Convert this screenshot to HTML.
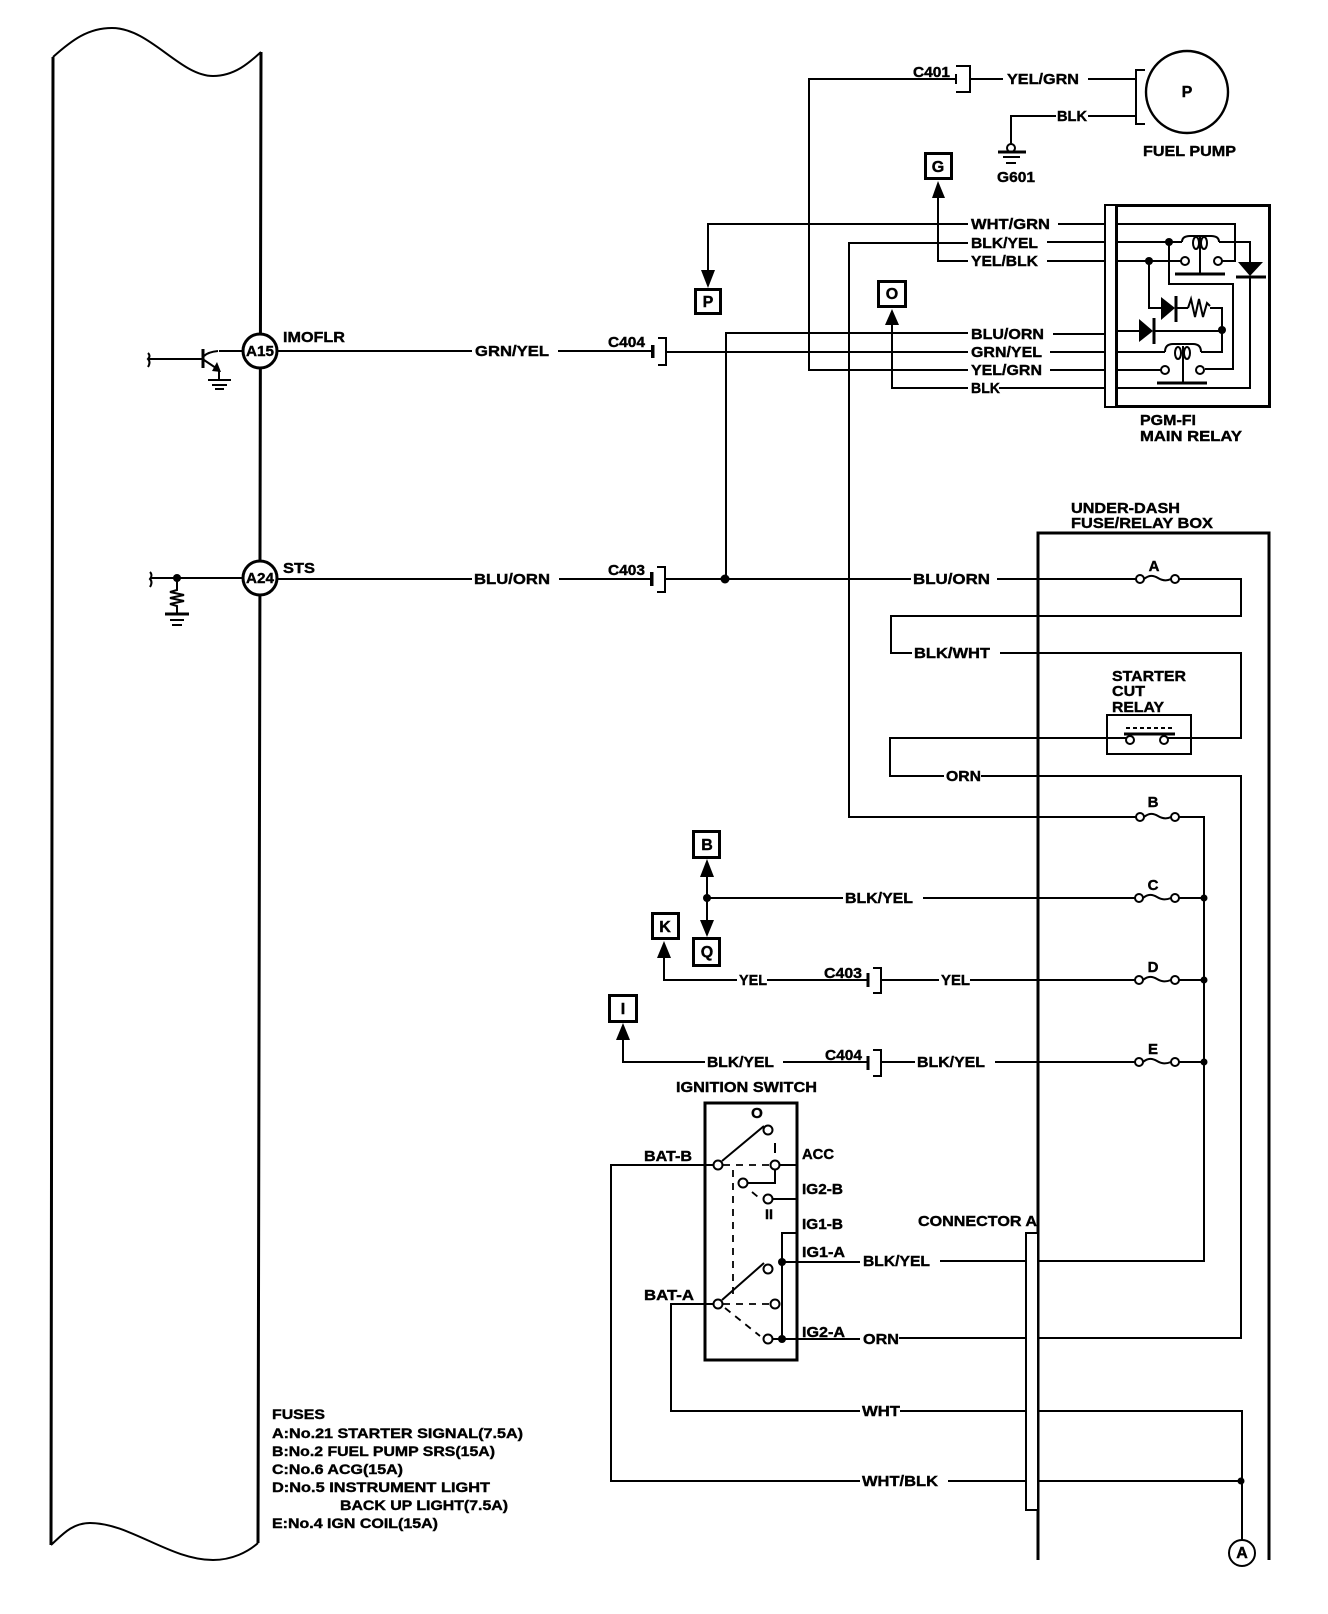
<!DOCTYPE html>
<html>
<head>
<meta charset="utf-8">
<style>
html,body{margin:0;padding:0;background:#fff;width:1328px;height:1614px;overflow:hidden}
svg{display:block}
text{font-family:"Liberation Sans",sans-serif;font-weight:bold;font-size:15px;fill:#000;stroke:#000;stroke-width:.4}
.s{font-size:14px}
.l{font-size:16px}
.c{text-anchor:middle}
.w{fill:none;stroke:#000;stroke-width:2;shape-rendering:crispEdges}
.t{fill:none;stroke:#000;stroke-width:3;shape-rendering:crispEdges}
.n{fill:none;stroke:#000;stroke-width:1.6;shape-rendering:crispEdges}
.v{fill:none;stroke:#000;stroke-width:2}
.o{fill:#fff;stroke:#000;stroke-width:2}
.f{fill:#000;stroke:none}
.b{fill:#fff;stroke:#000;stroke-width:3}
.d{fill:none;stroke:#000;stroke-width:1.8;stroke-dasharray:7 6}
</style>
</head>
<body>
<svg width="1328" height="1614" viewBox="0 0 1328 1614" xmlns="http://www.w3.org/2000/svg">
<!-- left module -->
<path class="v" d="M53 57C72 40 88 28 112 28C150 28 180 76 213 76C235 76 250 62 261 52"/>
<path class="v" d="M51 1545C62 1535 72 1523 90 1523C130 1523 170 1560 213 1560C232 1560 248 1552 258 1543"/>
<path class="t" style="shape-rendering:auto" d="M53 57L51 1545M261 52L258 1543"/>
<circle class="b" cx="260" cy="351" r="17"/>
<circle class="b" cx="260" cy="578" r="17"/>
<text x="246" y="356" textLength="28" lengthAdjust="spacingAndGlyphs">A15</text>
<text x="246" y="583" textLength="28" lengthAdjust="spacingAndGlyphs">A24</text>
<text x="283" y="342" textLength="62" lengthAdjust="spacingAndGlyphs">IMOFLR</text>
<text x="283" y="573" textLength="32" lengthAdjust="spacingAndGlyphs">STS</text>
<!-- transistor -->
<path class="v" d="M148 353q3 3 0 6q3 3 0 8M148 359H203M218 351Q208 352 204 356M219 351H243"/>
<path class="t" style="shape-rendering:auto" d="M203 349V368"/>
<path class="v" d="M204 360L219 370V379"/>
<path class="f" d="M221 372L212 371L217 362Z"/>
<path class="w" d="M208 380H231M212 385H227M215 389H224"/>
<!-- A24 input -->
<path class="v" d="M150 572q3 3 0 7q3 3 0 8M150 578H243M177 578V590L170 592L184 595L170 598L184 601L170 604L177 606V614"/>
<circle class="f" cx="177" cy="578" r="4"/>
<path class="t" d="M165 614H189"/><path class="w" d="M170 620H184M172 625H182"/>
<!-- A15 / A24 wires -->
<path class="w" d="M277 351H472M558 351H652M666 352H968"/>
<text x="475" y="356" textLength="74" lengthAdjust="spacingAndGlyphs">GRN/YEL</text>
<path class="w" d="M277 579H472M559 579H651M665 579H911M997 579H1140"/>
<text x="474" y="584" textLength="76" lengthAdjust="spacingAndGlyphs">BLU/ORN</text>
<text x="608" y="347" textLength="37" lengthAdjust="spacingAndGlyphs">C404</text>
<text x="608" y="575" textLength="37" lengthAdjust="spacingAndGlyphs">C403</text>
<path class="w" d="M658 338H666V365H658M652 345V358M657 567H665V592H657M651 572V586"/>
<path class="t" d="M653 345V358M652 572V586"/>
<path class="w" d="M726 579V333H968"/>
<circle class="f" cx="725" cy="579" r="4.5"/>
<!-- top harness -->
<path class="w" d="M955 79H809V370H968M970 79H1003M1088 79H1135"/>
<path class="w" d="M956 66H970V92H956M956 74V84"/>
<text x="913" y="77" textLength="37" lengthAdjust="spacingAndGlyphs">C401</text>
<text x="1007" y="84" textLength="72" lengthAdjust="spacingAndGlyphs">YEL/GRN</text>
<path class="w" d="M1145 70H1136V124H1145"/>
<circle cx="1187" cy="92" r="41" fill="none" stroke="#000" stroke-width="2.4"/>
<text x="1187" y="97" class="l c">P</text>
<text x="1143" y="156" textLength="93" lengthAdjust="spacingAndGlyphs">FUEL PUMP</text>
<path class="w" d="M1136 116H1088M1056 116H1011V144"/>
<text x="1057" y="121" textLength="30" lengthAdjust="spacingAndGlyphs">BLK</text>
<circle class="o" cx="1011" cy="148" r="4"/>
<path class="t" d="M998 152H1026"/><path class="n" d="M1003 157H1020M1006 163H1016"/>
<text x="997" y="182" textLength="38" lengthAdjust="spacingAndGlyphs">G601</text>
<!-- G box -->
<rect class="b" x="925.5" y="153.5" width="26" height="25"/>
<text x="938" y="172" class="l c">G</text>
<path class="f" d="M938 181L945 198H932Z"/>
<path class="w" d="M938 198V261H968"/>
<!-- P box -->
<path class="w" d="M968 224H708V271"/>
<path class="f" d="M708 288L701 270H715Z"/>
<rect class="b" x="695.5" y="289.5" width="25" height="24"/>
<text x="708" y="307" class="l c">P</text>
<!-- O box -->
<rect class="b" x="878.5" y="281.5" width="27" height="25"/>
<text x="892" y="299" class="l c">O</text>
<path class="f" d="M892 309L899 325H885Z"/>
<path class="w" d="M892 325V388H968"/>
<!-- long BLK/YEL -->
<path class="w" d="M968 243H849V817H1137"/>
<!-- relay labels -->
<text x="971" y="229" textLength="79" lengthAdjust="spacingAndGlyphs">WHT/GRN</text>
<text x="971" y="248" textLength="67" lengthAdjust="spacingAndGlyphs">BLK/YEL</text>
<text x="971" y="266" textLength="67" lengthAdjust="spacingAndGlyphs">YEL/BLK</text>
<text x="971" y="339" textLength="73" lengthAdjust="spacingAndGlyphs">BLU/ORN</text>
<text x="971" y="357" textLength="71" lengthAdjust="spacingAndGlyphs">GRN/YEL</text>
<text x="971" y="375" textLength="71" lengthAdjust="spacingAndGlyphs">YEL/GRN</text>
<text x="971" y="393" textLength="29" lengthAdjust="spacingAndGlyphs">BLK</text>
<path class="w" d="M1058 224H1105M1047 242H1105M1047 261H1105M1053 334H1105M1050 352H1105M1050 370H1105M999 388H1105"/>
<!-- relay box -->
<path class="n" d="M1116 205H1105V407H1116"/>
<rect x="1116.5" y="205.5" width="153" height="201" fill="none" stroke="#000" stroke-width="3" shape-rendering="crispEdges"/>
<path class="w" d="M1116 224H1235V261H1222M1116 242H1182M1219 242H1250V262M1250 277V388H1116M1116 261H1181"/>
<path class="w" d="M1169 242V284H1233V369H1205M1149 261V308H1161M1176 308H1188M1210 308H1222V352H1201M1116 331H1139M1154 331H1222M1116 352H1165M1116 370H1161"/>
<circle class="f" cx="1169" cy="242" r="4"/><circle class="f" cx="1149" cy="261" r="4"/><circle class="f" cx="1222" cy="330" r="4"/>
<!-- upper coil -->
<path class="v" d="M1182 242q0-6 8-6h21q8 0 8 6"/>
<ellipse cx="1196" cy="243" rx="3" ry="6" class="v"/><ellipse cx="1204" cy="243" rx="3" ry="6" class="v"/>
<path class="n" d="M1200 236V274"/>
<circle class="o" cx="1185" cy="261" r="4"/><circle class="o" cx="1218" cy="261" r="4"/>
<path class="t" d="M1175 274H1225"/>
<!-- lower coil -->
<path class="v" d="M1165 352q0-8 8-8h20q8 0 8 8"/>
<ellipse cx="1178" cy="353" rx="3" ry="6" class="v"/><ellipse cx="1187" cy="353" rx="3" ry="6" class="v"/>
<path class="n" d="M1183 346V383"/>
<circle class="o" cx="1165" cy="370" r="4"/><circle class="o" cx="1200" cy="370" r="4"/>
<path class="t" d="M1157 383H1207"/>
<!-- diodes -->
<path class="f" d="M1161 297L1175 308L1161 320Z"/><path class="t" d="M1176 296V322"/>
<path class="f" d="M1139 319L1153 331L1139 342Z"/><path class="t" d="M1154 318V344"/>
<path class="f" d="M1238 262H1263L1250 276Z"/><path class="t" d="M1236 277H1266"/>
<path class="v" d="M1188 308l3-9 4 18 4-18 4 18 4-14 3 3"/>
<text x="1140" y="425" textLength="56" lengthAdjust="spacingAndGlyphs">PGM-FI</text>
<text x="1140" y="441" textLength="102" lengthAdjust="spacingAndGlyphs">MAIN RELAY</text>
<!-- under-dash box -->
<text x="1071" y="513" textLength="109" lengthAdjust="spacingAndGlyphs">UNDER-DASH</text>
<text x="1071" y="528" textLength="142" lengthAdjust="spacingAndGlyphs">FUSE/RELAY BOX</text>
<path class="t" d="M1038 1560V533H1269V1560"/>
<text x="913" y="584" textLength="77" lengthAdjust="spacingAndGlyphs">BLU/ORN</text>
<path class="w" d="M1179 579H1241V616H891V653H912M1000 653H1241V738H1164M1126 738H890V776H944M981 776H1241V1338H899"/>
<text x="914" y="658" textLength="76" lengthAdjust="spacingAndGlyphs">BLK/WHT</text>
<text x="946" y="781" textLength="35" lengthAdjust="spacingAndGlyphs">ORN</text>
<!-- starter relay -->
<text x="1112" y="681" textLength="74" lengthAdjust="spacingAndGlyphs">STARTER</text>
<text x="1112" y="696" textLength="33" lengthAdjust="spacingAndGlyphs">CUT</text>
<text x="1112" y="712" textLength="52" lengthAdjust="spacingAndGlyphs">RELAY</text>
<rect x="1107" y="715" width="84" height="39" fill="none" stroke="#000" stroke-width="2.4" shape-rendering="crispEdges"/>
<path class="n" stroke-dasharray="4 3" d="M1126 728H1172"/>
<path class="t" d="M1124 734H1175"/>
<circle class="o" cx="1130" cy="740" r="4"/><circle class="o" cx="1164" cy="740" r="4"/>
<!-- fuses -->
<g>
<path class="v" d="M1144 579c5-4 9-4 14-1s9 3 13 1M1144 817c5-4 9-4 14-1s9 3 13 1M1143 898c5-4 9-4 14-1s9 3 14 1M1143 980c5-4 9-4 14-1s9 3 14 1M1143 1062c5-4 9-4 14-1s9 3 14 1"/>
<circle class="o" cx="1140" cy="579" r="4"/><circle class="o" cx="1175" cy="579" r="4"/>
<circle class="o" cx="1140" cy="817" r="4"/><circle class="o" cx="1175" cy="817" r="4"/>
<circle class="o" cx="1139" cy="898" r="4"/><circle class="o" cx="1175" cy="898" r="4"/>
<circle class="o" cx="1139" cy="980" r="4"/><circle class="o" cx="1175" cy="980" r="4"/>
<circle class="o" cx="1139" cy="1062" r="4"/><circle class="o" cx="1175" cy="1062" r="4"/>
<text x="1154" y="571" class="c">A</text>
<text x="1153" y="807" class="c">B</text>
<text x="1153" y="890" class="c">C</text>
<text x="1153" y="972" class="c">D</text>
<text x="1153" y="1054" class="c">E</text>
</g>
<path class="w" d="M1179 817H1204V1261H1037M1179 898H1204M1179 980H1204M1179 1062H1204"/>
<circle class="f" cx="1204" cy="898" r="3.5"/><circle class="f" cx="1204" cy="980" r="3.5"/><circle class="f" cx="1204" cy="1062" r="3.5"/>
<!-- BLK/YEL C -->
<path class="w" d="M707 898H843M923 898H1135"/>
<text x="845" y="903" textLength="68" lengthAdjust="spacingAndGlyphs">BLK/YEL</text>
<circle class="f" cx="707" cy="898" r="4"/>
<rect class="b" x="693.5" y="831.5" width="26" height="26"/>
<text x="707" y="850" class="l c">B</text>
<path class="f" d="M707 859L714 877H700Z"/>
<path class="w" d="M707 877V920"/>
<path class="f" d="M707 937L700 920H714Z"/>
<rect class="b" x="693.5" y="938.5" width="26" height="27"/>
<text x="707" y="957" class="l c">Q</text>
<!-- K -->
<rect class="b" x="652.5" y="913.5" width="26" height="25"/>
<text x="665" y="932" class="l c">K</text>
<path class="f" d="M664 941L671 958H657Z"/>
<path class="w" d="M664 958V980H737M767 980H868M881 980H939M970 980H1135"/>
<text x="739" y="985" textLength="28" lengthAdjust="spacingAndGlyphs">YEL</text>
<text x="941" y="985" textLength="29" lengthAdjust="spacingAndGlyphs">YEL</text>
<text x="824" y="978" textLength="38" lengthAdjust="spacingAndGlyphs">C403</text>
<path class="w" d="M873 968H881V993H873"/><path class="t" d="M868 973V987"/>
<!-- I -->
<rect class="b" x="609.5" y="995.5" width="27" height="26"/>
<text x="623" y="1014" class="l c">I</text>
<path class="f" d="M623 1023L630 1040H616Z"/>
<path class="w" d="M623 1040V1062H705M783 1062H868M881 1062H915M995 1062H1135"/>
<text x="707" y="1067" textLength="67" lengthAdjust="spacingAndGlyphs">BLK/YEL</text>
<text x="917" y="1067" textLength="68" lengthAdjust="spacingAndGlyphs">BLK/YEL</text>
<text x="825" y="1060" textLength="37" lengthAdjust="spacingAndGlyphs">C404</text>
<path class="w" d="M873 1050H881V1076H873"/><path class="t" d="M868 1056V1070"/>
<!-- ignition switch -->
<text x="676" y="1092" textLength="141" lengthAdjust="spacingAndGlyphs">IGNITION SWITCH</text>
<rect x="705" y="1103" width="92" height="257" fill="none" stroke="#000" stroke-width="3" shape-rendering="crispEdges"/>
<text x="757" y="1118" class="c">O</text>
<path class="v" stroke-width="2.6" d="M722 1161L764 1126M722 1300L764 1263"/>
<circle class="o" cx="718" cy="1165" r="4.5"/><circle class="o" cx="768" cy="1130" r="4.5"/>
<circle class="o" cx="775" cy="1165" r="4.5"/><circle class="o" cx="743" cy="1183" r="4.5"/>
<circle class="o" cx="768" cy="1199" r="4.5"/><circle class="o" cx="718" cy="1304" r="4.5"/>
<circle class="o" cx="768" cy="1269" r="4.5"/><circle class="o" cx="775" cy="1304" r="4.5"/>
<circle class="o" cx="768" cy="1339" r="4.5"/>
<path class="n" d="M775 1143V1153"/>
<path class="d" d="M723 1165H770M733 1170V1297M723 1304H770M725 1308L760 1336M752 1192L758 1197"/>
<path class="w" d="M780 1165H797M748 1183H775V1170M773 1199H797"/>
<text x="769" y="1219" class="s c" textLength="8" lengthAdjust="spacingAndGlyphs">II</text>
<path class="w" d="M797 1233H782V1339M782 1262H860M772 1339H860"/>
<circle class="f" cx="782" cy="1262" r="4"/><circle class="f" cx="782" cy="1339" r="4"/>
<path class="w" d="M713 1165H611V1481H860M713 1304H671V1411H860"/>
<text x="644" y="1161" textLength="48" lengthAdjust="spacingAndGlyphs">BAT-B</text>
<text x="644" y="1300" textLength="50" lengthAdjust="spacingAndGlyphs">BAT-A</text>
<text x="802" y="1159" textLength="32" lengthAdjust="spacingAndGlyphs">ACC</text>
<text x="802" y="1194" textLength="41" lengthAdjust="spacingAndGlyphs">IG2-B</text>
<text x="802" y="1229" textLength="41" lengthAdjust="spacingAndGlyphs">IG1-B</text>
<text x="802" y="1257" textLength="43" lengthAdjust="spacingAndGlyphs">IG1-A</text>
<text x="802" y="1337" textLength="43" lengthAdjust="spacingAndGlyphs">IG2-A</text>
<text x="863" y="1266" textLength="67" lengthAdjust="spacingAndGlyphs">BLK/YEL</text>
<text x="863" y="1344" textLength="36" lengthAdjust="spacingAndGlyphs">ORN</text>
<text x="862" y="1416" textLength="38" lengthAdjust="spacingAndGlyphs">WHT</text>
<text x="862" y="1486" textLength="76" lengthAdjust="spacingAndGlyphs">WHT/BLK</text>
<path class="w" d="M940 1261H1026M900 1411H1242V1541M948 1481H1242"/>
<circle class="f" cx="1241" cy="1481" r="3.5"/>
<circle class="o" stroke-width="2.4" cx="1242" cy="1553" r="13"/>
<text x="1242" y="1558" class="l c">A</text>
<!-- connector A -->
<text x="918" y="1226" textLength="119" lengthAdjust="spacingAndGlyphs">CONNECTOR A</text>
<path d="M1037 1233H1026V1510H1037" fill="#fff" stroke="#000" stroke-width="1.8" shape-rendering="crispEdges"/>
<!-- fuse list -->
<g>
<text class="s" x="272" y="1419" textLength="53" lengthAdjust="spacingAndGlyphs">FUSES</text>
<text class="s" x="272" y="1438" textLength="251" lengthAdjust="spacingAndGlyphs">A:No.21 STARTER SIGNAL(7.5A)</text>
<text class="s" x="272" y="1456" textLength="223" lengthAdjust="spacingAndGlyphs">B:No.2 FUEL PUMP SRS(15A)</text>
<text class="s" x="272" y="1474" textLength="131" lengthAdjust="spacingAndGlyphs">C:No.6 ACG(15A)</text>
<text class="s" x="272" y="1492" textLength="218" lengthAdjust="spacingAndGlyphs">D:No.5 INSTRUMENT LIGHT</text>
<text class="s" x="340" y="1510" textLength="168" lengthAdjust="spacingAndGlyphs">BACK UP LIGHT(7.5A)</text>
<text class="s" x="272" y="1528" textLength="166" lengthAdjust="spacingAndGlyphs">E:No.4 IGN COIL(15A)</text>
</g>
</svg>
</body>
</html>
